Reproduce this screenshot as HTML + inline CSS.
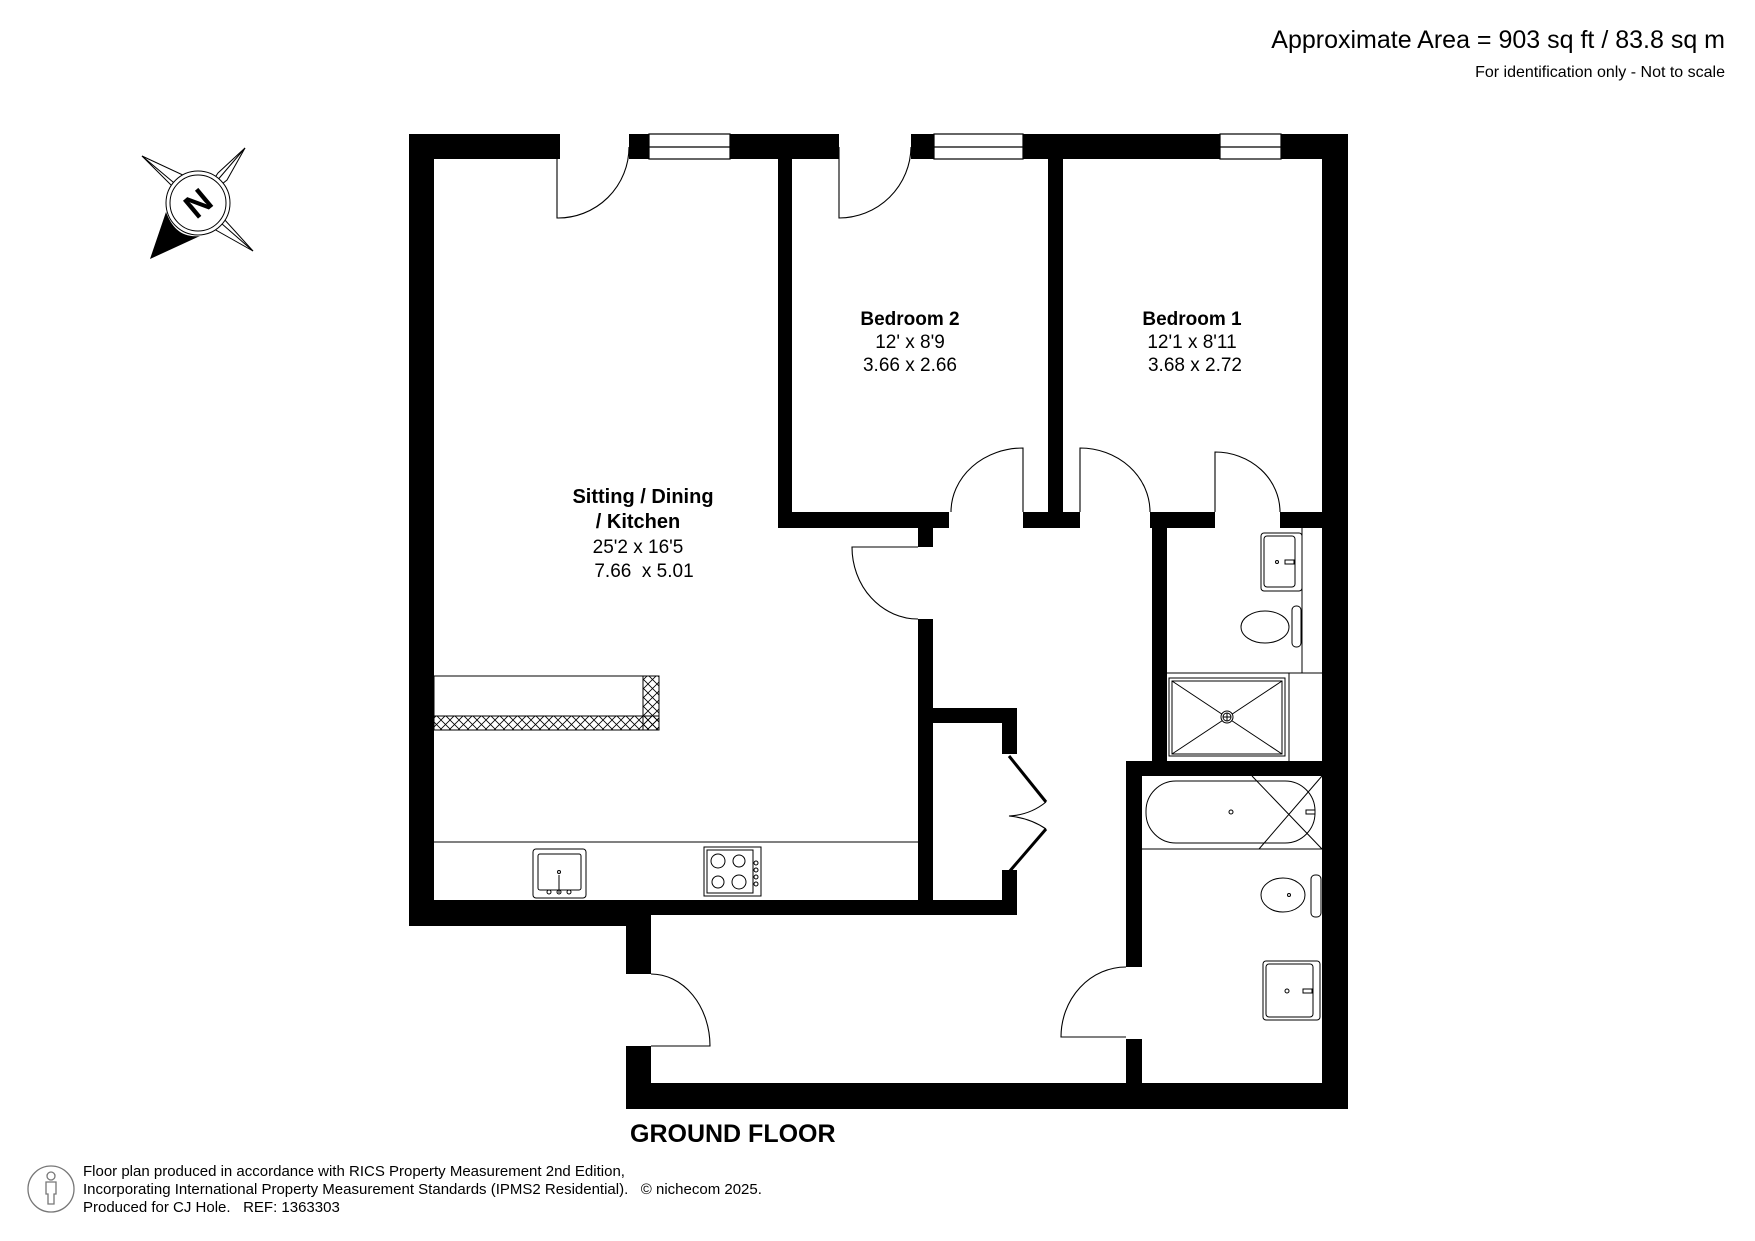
<!DOCTYPE html>
<html><head><meta charset="utf-8"><style>
html,body{margin:0;padding:0;background:#fff;}
svg{display:block;}
text{font-family:"Liberation Sans",Arial,sans-serif;fill:#000;}
</style></head><body>
<svg width="1755" height="1241" viewBox="0 0 1755 1241" xmlns="http://www.w3.org/2000/svg">
<defs>
<pattern id="hx" width="9" height="9" patternUnits="userSpaceOnUse">
<path d="M0,0L9,9M9,0L0,9" stroke="#000" stroke-width="0.8"/>
</pattern>
</defs>
<rect width="1755" height="1241" fill="#fff"/>

<!-- header -->
<text x="1725" y="48" font-size="25" text-anchor="end">Approximate Area = 903 sq ft / 83.8 sq m</text>
<text x="1725" y="77" font-size="16" text-anchor="end">For identification only - Not to scale</text>

<!-- compass -->
<g stroke="#000" stroke-width="1" fill="none">
<path d="M142,156 L185,176 L198,203 L172,186 Z"/>
<path d="M245,148 L227,180 L198,203 L218,173 Z"/>
<path d="M253,251 L214,229 L198,203 L224,219 Z"/>
<path d="M142,156 L198,203 M245,148 L198,203 M253,251 L198,203"/>
<circle cx="198" cy="203" r="32" fill="#fff"/>
<circle cx="198" cy="203" r="28"/>
</g>
<path d="M150,259 L166,212 C172,228 182,238 200,236 Z" fill="#000"/>
<text x="198" y="215" font-size="34" font-weight="bold" text-anchor="middle" transform="rotate(-40 198 203)">N</text>

<!-- walls -->
<g fill="#000">
<rect x="409" y="134" width="151" height="25"/>
<rect x="629" y="134" width="20" height="25"/>
<rect x="730" y="134" width="109" height="25"/>
<rect x="911" y="134" width="23" height="25"/>
<rect x="1023" y="134" width="197" height="25"/>
<rect x="1281" y="134" width="67" height="25"/>
<rect x="409" y="134" width="25" height="792"/>
<rect x="1322" y="134" width="26" height="975"/>
<rect x="409" y="900" width="242" height="26"/>
<rect x="626" y="900" width="391" height="15"/>
<rect x="626" y="900" width="25" height="74"/>
<rect x="626" y="1046" width="25" height="63"/>
<rect x="626" y="1083" width="722" height="26"/>
<rect x="778" y="159" width="14" height="369"/>
<rect x="1048" y="159" width="15" height="369"/>
<rect x="778" y="512" width="171" height="16"/>
<rect x="1023" y="512" width="57" height="16"/>
<rect x="1150" y="512" width="65" height="16"/>
<rect x="1280" y="512" width="42" height="16"/>
<rect x="918" y="528" width="15" height="19"/>
<rect x="918" y="619" width="15" height="296"/>
<rect x="918" y="708" width="99" height="15"/>
<rect x="1002" y="708" width="15" height="46"/>
<rect x="1002" y="870" width="15" height="45"/>
<rect x="1152" y="528" width="15" height="233"/>
<rect x="1126" y="761" width="196" height="15"/>
<rect x="1126" y="761" width="16" height="206"/>
<rect x="1126" y="1039" width="16" height="44"/>
</g>

<!-- windows -->
<g stroke="#000" stroke-width="1.2" fill="#fff">
<rect x="649" y="134" width="81" height="25"/>
<rect x="934" y="134" width="89" height="25"/>
<rect x="1220" y="134" width="61" height="25"/>
<path d="M649,147H730M934,147H1023M1220,147H1281" fill="none"/>
</g>

<!-- doors -->
<g stroke="#000" stroke-width="1.1" fill="none">
<path d="M557,147V218 A71,71 0 0 0 629,147"/>
<path d="M839,147V218 A72,72 0 0 0 911,147"/>
<path d="M1023,512V448 A72,64 0 0 0 951,512"/>
<path d="M1080,512V448 A70,64 0 0 1 1150,512"/>
<path d="M1215,512V452 A65,60 0 0 1 1280,512"/>
<path d="M918,547H852 A66,72 0 0 0 918,619"/>
<path d="M1126,1037H1061 A65,70 0 0 1 1126,967"/>
<path d="M651,1046H710 A59,72 0 0 0 651,974" />
<path d="M1046,802 Q1030,815 1009,816 Q1030,818 1046,829"/>
</g>
<g stroke="#000" stroke-width="3" fill="none">
<path d="M1009,756 L1046,802"/>
<path d="M1009,872 L1046,829"/>
</g>

<!-- kitchen -->
<g stroke="#000" stroke-width="1" fill="none">
<path d="M434,842H918"/>
<rect x="533" y="849" width="53" height="49" rx="3"/>
<rect x="538" y="854" width="43" height="36" rx="2"/>
<path d="M559,875V893"/>
<circle cx="559" cy="872" r="1.5"/>
<circle cx="559" cy="892" r="2"/><circle cx="549" cy="892" r="2"/><circle cx="569" cy="892" r="2"/>
<rect x="704" y="847" width="57" height="49"/>
<rect x="707" y="850" width="46" height="43"/>
<circle cx="718" cy="861" r="7"/><circle cx="739" cy="861" r="6"/>
<circle cx="718" cy="882" r="6"/><circle cx="739" cy="882" r="7"/>
<circle cx="756" cy="863" r="2"/><circle cx="756" cy="870" r="2"/><circle cx="756" cy="877" r="2"/><circle cx="756" cy="884" r="2"/>
<rect x="434" y="716" width="225" height="14" fill="url(#hx)"/>
<rect x="643" y="676" width="16" height="54" fill="url(#hx)"/>
<rect x="434" y="676" width="225" height="54"/>
<path d="M434,716H643V676"/>
</g>

<!-- bathrooms -->
<g stroke="#000" stroke-width="1" fill="none">
<path d="M1302,528V673 M1167,673H1322 M1289,673V761"/>
<rect x="1261" y="533" width="41" height="58" rx="3"/>
<rect x="1264" y="536" width="31" height="51" rx="3"/>
<circle cx="1277" cy="562" r="1.5"/><path d="M1285,560h9v4h-9z"/>
<ellipse cx="1265" cy="627" rx="24" ry="16"/>
<rect x="1292" y="606" width="9" height="41" rx="4"/>
<rect x="1169" y="678" width="116" height="78"/>
<rect x="1172" y="681" width="110" height="73"/>
<path d="M1172,681L1282,754M1282,681L1172,754"/>
<circle cx="1227" cy="717" r="6" fill="#fff"/><circle cx="1227" cy="717" r="4"/><path d="M1223,717h8M1227,713v8"/>
<rect x="1146" y="781" width="169" height="62" rx="30"/>
<path d="M1142,849H1322"/>
<path d="M1252,776L1322,849M1259,849L1322,776"/>
<circle cx="1231" cy="812" r="2"/><path d="M1306,810h9v4h-9z"/>
<ellipse cx="1283" cy="895" rx="22" ry="17"/>
<rect x="1311" y="875" width="10" height="42" rx="4"/>
<circle cx="1289" cy="895" r="1.5"/>
<rect x="1263" y="961" width="57" height="59" rx="3"/>
<rect x="1266" y="964" width="47" height="53" rx="3"/>
<circle cx="1287" cy="991" r="2"/><path d="M1303,989h9v4h-9z"/>
</g>

<!-- room labels -->
<g text-anchor="middle">
<text x="643" y="503" font-size="20" font-weight="bold">Sitting / Dining</text>
<text x="638" y="528" font-size="20" font-weight="bold">/ Kitchen</text>
<text x="638" y="553" font-size="19">25'2 x 16'5</text>
<text x="644" y="577" font-size="19">7.66&#160; x 5.01</text>
<text x="910" y="325" font-size="19" font-weight="bold">Bedroom 2</text>
<text x="910" y="348" font-size="19">12' x 8'9</text>
<text x="910" y="371" font-size="19">3.66 x 2.66</text>
<text x="1192" y="325" font-size="19" font-weight="bold">Bedroom 1</text>
<text x="1192" y="348" font-size="19">12'1 x 8'11</text>
<text x="1195" y="371" font-size="19">3.68 x 2.72</text>
</g>
<text x="630" y="1142" font-size="25" font-weight="bold">GROUND FLOOR</text>

<!-- footer -->
<g stroke="#777" stroke-width="1.3" fill="none">
<circle cx="51" cy="1189" r="23"/>
<circle cx="51" cy="1176" r="4"/>
<path d="M46,1182h10v12h-2v10h-6v-10h-2z"/>
</g>
<g font-size="15">
<text x="83" y="1176" fill="#444">Floor plan produced in accordance with RICS Property Measurement 2nd Edition,</text>
<text x="83" y="1194" fill="#444">Incorporating International Property Measurement Standards (IPMS2 Residential).&#160;&#160; © nichecom 2025.</text>
<text x="83" y="1212" fill="#444">Produced for CJ Hole.&#160;&#160; REF: 1363303</text>
</g>
</svg>
</body></html>
